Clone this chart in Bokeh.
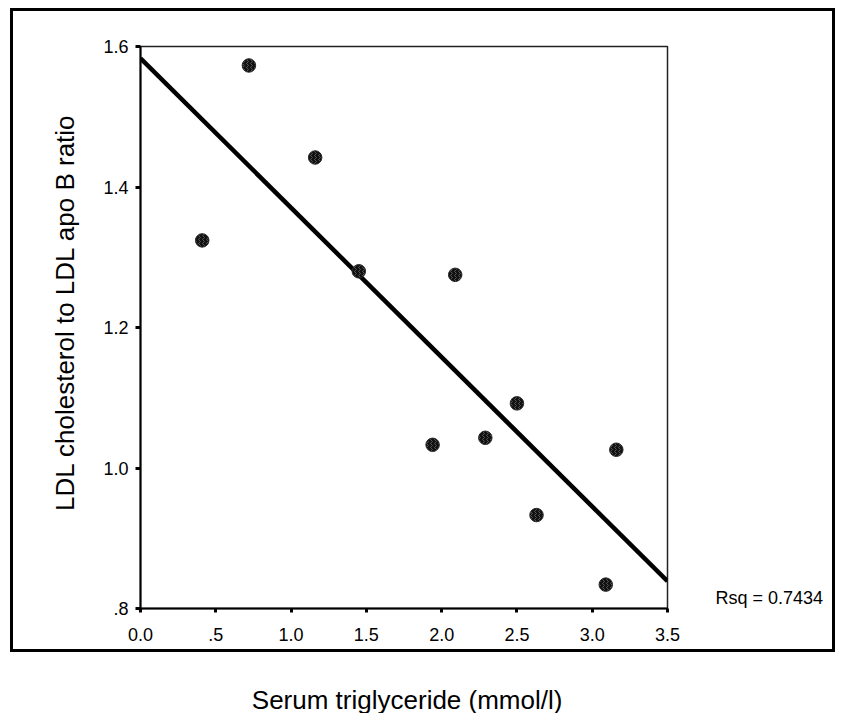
import numpy as np
from bokeh.plotting import figure
from bokeh.layouts import column
from bokeh.models import Label, Title, FixedTicker, Range1d, LinearAxis
from bokeh.embed import file_html
from bokeh.resources import INLINE

# ---- data ----
triglyceride = [0.41, 0.72, 1.16, 1.45, 1.94, 2.09, 2.29, 2.50, 2.63, 3.09, 3.16]
ldl_ratio = [1.324, 1.573, 1.442, 1.280, 1.033, 1.275, 1.043, 1.092, 0.933, 0.834, 1.026]
x_ticks = [0.0, 0.5, 1.0, 1.5, 2.0, 2.5, 3.0, 3.5]
x_tick_labels = ["0.0", ".5", "1.0", "1.5", "2.0", "2.5", "3.0", "3.5"]
y_ticks = [0.8, 1.0, 1.2, 1.4, 1.6]
y_tick_labels = [".8", "1.0", "1.2", "1.4", "1.6"]
rsq_text = "Rsq = 0.7434"
rsq_label_y = 0.815
x_title = "Serum triglyceride (mmol/l)"
y_title = "LDL cholesterol to LDL apo B ratio"

FONT = "Liberation Sans"

p = figure(frame_width=521, frame_height=556,
           x_range=Range1d(0, 3.5), y_range=Range1d(0.8, 1.6),
           output_backend="svg", toolbar_location=None,
           min_border_left=127, min_border_top=35,
           min_border_right=171, min_border_bottom=47)
p.margin = (8, 0, 0, 10)
p.styles = {"border": "3px solid black"}
p.background_fill_color = "white"
p.border_fill_color = "white"
p.outline_line_color = "#222222"
p.outline_line_width = 1.5
p.xgrid.visible = False
p.ygrid.visible = False

for ax, ticks, labels, tout, stand in ((p.xaxis, x_ticks, x_tick_labels, 4, 15),
                                       (p.yaxis, y_ticks, y_tick_labels, 5, 7)):
    ax.ticker = FixedTicker(ticks=ticks)
    ax.major_label_overrides = {t: l for t, l in zip(ticks, labels)}
    ax.axis_line_color = "black"
    ax.axis_line_width = 2
    ax.major_tick_line_color = "black"
    ax.major_tick_line_width = 3
    ax.major_tick_out = tout
    ax.major_tick_in = 0
    ax.minor_tick_line_color = None
    ax.major_label_text_font = FONT
    ax.major_label_text_font_size = "18px"
    ax.major_label_text_color = "black"
    ax.major_label_standoff = stand
p.yaxis.major_label_orientation = "horizontal"

# Rsq note placed via a bare right axis
rax = LinearAxis(ticker=FixedTicker(ticks=[rsq_label_y]),
                 major_label_overrides={rsq_label_y: rsq_text})
rax.axis_line_color = None
rax.major_tick_line_color = None
rax.minor_tick_line_color = None
rax.major_tick_out = 0
rax.major_tick_in = 0
rax.major_label_standoff = 48
rax.major_label_text_font = FONT
rax.major_label_text_font_size = "18px"
rax.major_label_text_color = "black"
p.add_layout(rax, "right")

# y title
p.add_layout(Title(text=y_title, align="right", offset=67, standoff=42,
                   text_font=FONT, text_font_size="26px", text_font_style="normal",
                   text_color="black"), "left")

# regression line computed from the data
slope, intercept = np.polyfit(triglyceride, ldl_ratio, 1)
fit_x = [x_ticks[0], x_ticks[-1]]
fit_y = [intercept + slope * v for v in fit_x]
p.line(fit_x, fit_y, line_color="black", line_width=4.5)

p.scatter(triglyceride, ldl_ratio, size=13.5, marker="circle",
          fill_color="#111111", line_color="#2a2a2a", line_width=1,
          hatch_pattern="vertical_wave", hatch_color="#555555", hatch_scale=4,
          hatch_weight=1)

# x title below the boxed chart
p2 = figure(width=836, height=61, x_range=Range1d(0, 836), y_range=Range1d(0, 61),
            output_backend="svg", toolbar_location=None,
            min_border=0, min_border_left=0, min_border_right=0,
            min_border_top=0, min_border_bottom=0)
p2.axis.visible = False
p2.grid.visible = False
p2.outline_line_color = None
p2.background_fill_color = "white"
p2.border_fill_color = "white"
p2.add_layout(Label(x=434.5, y=14, text=x_title, text_font=FONT,
                    text_font_size="26px", text_align="center", text_baseline="middle",
                    text_color="black"))

layout = column(p, p2, spacing=0)
open("out.html", "w").write(file_html(layout, INLINE))
